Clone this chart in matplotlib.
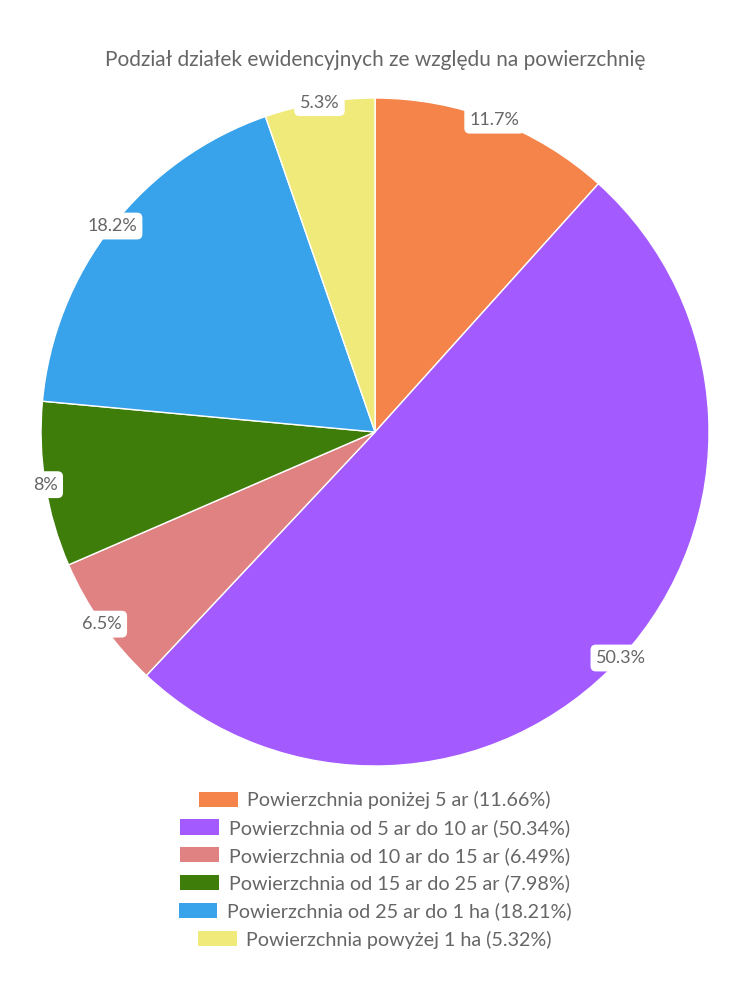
import matplotlib
matplotlib.use("Agg")
import numpy as np
import matplotlib.pyplot as plt
from matplotlib.patches import Patch

plt.rcParams['font.family'] = ['Lato', 'DejaVu Sans']

# ============================================================
# dane
# ============================================================
TITLE   = "Podział działek ewidencyjnych ze względu na powierzchnię"
LABELS  = [
    "Powierzchnia poniżej 5 ar",
    "Powierzchnia od 5 ar do 10 ar",
    "Powierzchnia od 10 ar do 15 ar",
    "Powierzchnia od 15 ar do 25 ar",
    "Powierzchnia od 25 ar do 1 ha",
    "Powierzchnia powyżej 1 ha",
]
VALUES  = [11.66, 50.34, 6.49, 7.98, 18.21, 5.32]
COLORS  = ['#F4844A', '#A35BFF', '#E08282', '#3F7D0B', '#38A2EA', '#F0EA7B']
TXT_COL = '#666666'

fig = plt.figure(figsize=(7.5, 10), dpi=100)

# ── tytuł ────────────────────────────────────────────────────
fig.text(0.5, 0.94, TITLE, ha='center', va='center',
         fontsize=15, color=TXT_COL)

# ── wykres kołowy ────────────────────────────────────────────
ax = fig.add_axes([0.0547, 0.234, 0.8907, 0.668])
wedges, _ = ax.pie(
    VALUES, colors=COLORS, startangle=90, counterclock=False,
    wedgeprops=dict(edgecolor='white', linewidth=1),
)
ax.set_xlim(-1, 1)
ax.set_ylim(-1, 1)
ax.set_aspect('equal')
ax.axis('off')

# etykiety procentowe na krawędzi
for w, v in zip(wedges, VALUES):
    ang = np.deg2rad((w.theta1 + w.theta2) / 2)
    txt = f"{v:.1f}%".replace('.0%', '%')
    ax.text(np.cos(ang), np.sin(ang), txt, ha='center', va='center',
            fontsize=13, color=TXT_COL,
            bbox=dict(boxstyle='round,pad=0.3,rounding_size=0.3',
                      facecolor='white', edgecolor='none'))

# ── legenda (każdy wiersz wyśrodkowany osobno) ───────────────
y0, dy = 0.200, 0.0279
for i, (lab, v, c) in enumerate(zip(LABELS, VALUES, COLORS)):
    fig.legend(
        handles=[Patch(facecolor=c, edgecolor='none')],
        labels=[f"{lab} ({v:.2f}%)"],
        loc='center', bbox_to_anchor=(0.5, y0 - i * dy),
        frameon=False, fontsize=14.2, labelcolor=TXT_COL,
        handlelength=1.95, handleheight=0.8, handletextpad=0.5,
        borderpad=0, borderaxespad=0,
    )

fig.savefig("out.png", dpi=100)
